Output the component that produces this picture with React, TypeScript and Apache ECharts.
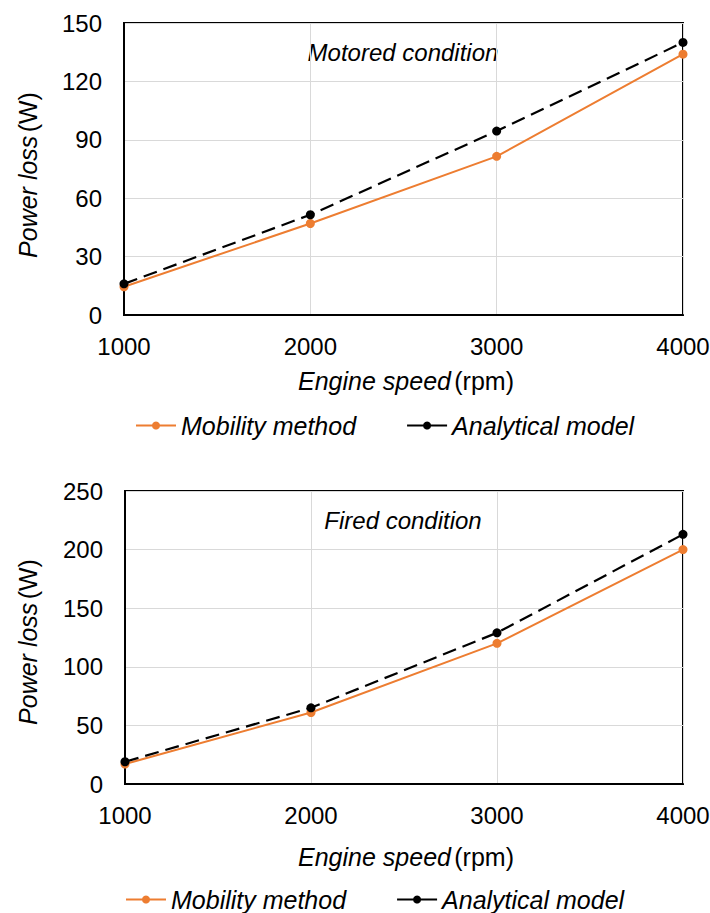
import React, { useEffect, useRef } from "react";
import * as echarts from "echarts";

const speeds = [1000, 2000, 3000, 4000];
const motoredMobility = [14.5, 47, 81.5, 134];
const motoredAnalytical = [16, 51.5, 94.5, 140];
const firedMobility = [17, 61, 120, 200];
const firedAnalytical = [19, 65, 129, 213];
const seriesNames = ["Mobility method", "Analytical model"];
const panelTitles = ["Motored condition", "Fired condition"];
const xTitle = "Engine speed";
const xUnit = "(rpm)";
const yTitle = "Power loss";
const yUnit = "(W)";

const FONT = "Liberation Sans, Arial, sans-serif";
const ORANGE = "#ED7D31";

export default function App() {
  const ref = useRef<HTMLDivElement>(null);
  useEffect(() => {
    document.body.style.margin = "0";
    const chart = echarts.init(ref.current!, null, { renderer: "svg" });
    const pair = (arr: number[]) => speeds.map((s, i) => [s, arr[i]]);
    const grids = [
      { left: 124, top: 23, width: 559, height: 292 },
      { left: 125, top: 491, width: 558, height: 293 },
    ];
    const xAxis = grids.map((_, i) => ({
      type: "value",
      gridIndex: i,
      min: 1000,
      max: 4000,
      interval: 1000,
      axisLine: { show: true, lineStyle: { color: "#000", width: 2 } },
      axisTick: { show: false },
      splitLine: { show: true, lineStyle: { color: "#d9d9d9", width: 1 } },
      axisLabel: {
        color: "#000",
        fontSize: 24,
        fontFamily: FONT,
        margin: 19,
        formatter: (v: number) => String(v),
      },
    }));
    const yMax = [150, 250];
    const yInt = [30, 50];
    const yAxis = grids.map((_, i) => ({
      type: "value",
      gridIndex: i,
      min: 0,
      max: yMax[i],
      interval: yInt[i],
      axisLine: { show: true, lineStyle: { color: "#000", width: 2 } },
      axisTick: { show: false },
      splitLine: { show: true, lineStyle: { color: "#d9d9d9", width: 1 } },
      axisLabel: { color: "#000", fontSize: 24, fontFamily: FONT, margin: 22 },
    }));
    const mk = (name: string, data: number[], idx: number, isA: boolean) => ({
      name,
      type: "line",
      xAxisIndex: idx,
      yAxisIndex: idx,
      data: pair(data),
      symbol: "circle",
      symbolSize: 9,
      itemStyle: { color: isA ? "#000" : ORANGE },
      lineStyle: isA
        ? { color: "#000", width: 2.2, type: [14, 7] }
        : { color: ORANGE, width: 2 },
      z: isA ? 3 : 2,
    });
    const rich = {
      i: { fontStyle: "italic", fontSize: 25, fontFamily: FONT, fill: "#000" },
      n: { fontSize: 25, fontFamily: FONT, fill: "#000" },
    };
    const titleY = [381, 857];
    const legendY = [413, 887];
    const legendLeft = [135, 125];
    const yTitleY = [175, 642];
    const graphic: any[] = [];
    grids.forEach((g, i) => {
      graphic.push({
        type: "text",
        x: 403,
        y: g.top + 29,
        style: {
          text: panelTitles[i],
          font: `italic 24px ${FONT}`,
          fill: "#000",
          align: "center",
          verticalAlign: "middle",
        },
      });
      graphic.push({
        type: "text",
        x: 406,
        y: titleY[i],
        style: {
          text: `{i|${xTitle}} {n|${xUnit}}`,
          rich,
          align: "center",
          verticalAlign: "middle",
        },
      });
      graphic.push({
        type: "text",
        x: 28,
        y: yTitleY[i],
        rotation: Math.PI / 2,
        style: {
          text: `{i|${yTitle}} {n|${yUnit}}`,
          rich,
          align: "center",
          verticalAlign: "middle",
        },
      });
    });
    chart.setOption({
      animation: false,
      grid: grids.map((g) => ({
        ...g,
        show: true,
        borderColor: "#000",
        borderWidth: 2,
        backgroundColor: "transparent",
        containLabel: false,
        outerBoundsMode: "none",
      })),
      xAxis,
      yAxis,
      legend: [0, 1].map((i) => ({
        left: legendLeft[i],
        top: legendY[i],
        padding: 0,
        itemWidth: 40,
        itemHeight: 10,
        itemGap: 50,
        data: [
          { name: seriesNames[0] },
          { name: seriesNames[1], lineStyle: { type: "solid" } },
        ],
        textStyle: { fontSize: 25, fontStyle: "italic", fontFamily: FONT, color: "#000" },
      })),
      series: [
        mk(seriesNames[0], motoredMobility, 0, false),
        mk(seriesNames[1], motoredAnalytical, 0, true),
        mk(seriesNames[0], firedMobility, 1, false),
        mk(seriesNames[1], firedAnalytical, 1, true),
      ],
      graphic,
    });
    return () => chart.dispose();
  }, []);
  return <div ref={ref} style={{ width: 710, height: 913 }} />;
}
